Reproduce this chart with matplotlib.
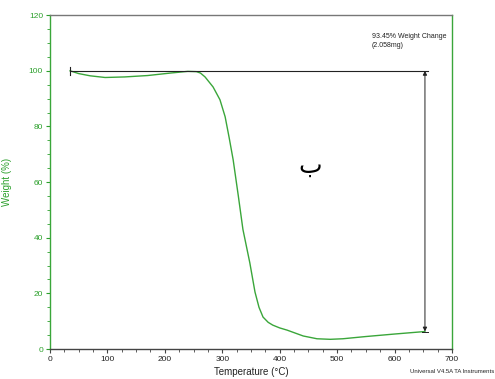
import numpy as np
import matplotlib.pyplot as plt
from matplotlib.ticker import MultipleLocator

plt.rcParams['font.family'] = ['Liberation Sans', 'DejaVu Sans']

# TGA curve
temp = [35, 50, 70, 96, 130, 170, 210, 240, 255, 262, 270, 284, 296, 305, 312, 319,
        328, 336, 348, 357, 364, 371, 380, 388, 400, 413, 441, 465, 488, 510, 550, 600, 653]
weight = [100, 99, 98.2, 97.6, 97.8, 98.3, 99.2, 99.8, 99.7, 99.2, 97.8, 94.2, 89.6, 83.5,
          76, 68, 55, 43, 31, 20.5, 15, 11.5, 9.6, 8.6, 7.6, 6.8, 4.7, 3.7, 3.5, 3.7, 4.5,
          5.4, 6.3]

step_start = 35
step_end = 653
step_top = 100
step_bottom = 6.3
step_label = "93.45% Weight Change\n(2.058mg)"

green = '#2ca02c'
line_green = '#3aa63a'
dark = '#222222'

fig = plt.figure(figsize=(4.95, 3.79), dpi=100)
ax = fig.add_axes([0.101, 0.079, 0.812, 0.881])

ax.plot(temp, weight, color=line_green, linewidth=1.0)

# step annotation
ax.plot([step_start, step_end + 6], [step_top, step_top], color=dark, linewidth=0.8)
ax.plot([step_start, step_start], [step_top - 1.5, step_top + 1.5], color=dark, linewidth=0.8)
ax.annotate('', xy=(step_end, step_top), xytext=(step_end, step_bottom),
            arrowprops=dict(arrowstyle='<|-|>', color=dark, lw=0.7,
                            mutation_scale=6, shrinkA=0, shrinkB=0))
ax.plot([step_end - 5, step_end + 6], [step_bottom, step_bottom], color=dark, linewidth=0.7)
ax.text(561, 113.5, step_label, fontsize=5, color=dark, va='top', ha='left', linespacing=1.3)
ax.text(453, 66, 'ب', fontsize=18, color='black', ha='center', va='center',
        family=['DejaVu Sans'])

ax.set_xlim(0, 700)
ax.set_ylim(0, 120)
ax.xaxis.set_major_locator(MultipleLocator(100))
ax.xaxis.set_minor_locator(MultipleLocator(25))
ax.yaxis.set_major_locator(MultipleLocator(20))
ax.yaxis.set_minor_locator(MultipleLocator(5))

for side in ['left', 'right']:
    ax.spines[side].set_color(line_green)
ax.spines['top'].set_color('#777777')
ax.spines['bottom'].set_color('#444444')
for s in ax.spines.values():
    s.set_linewidth(1.0)

ax.tick_params(axis='y', which='both', colors=green, labelsize=6, direction='out', pad=2)
ax.tick_params(axis='y', which='major', length=3)
ax.tick_params(axis='y', which='minor', length=2)
ax.tick_params(axis='x', which='both', colors='#444444', labelcolor=dark, labelsize=6,
               direction='out', pad=2)
ax.tick_params(axis='x', which='major', length=3)
ax.tick_params(axis='x', which='minor', length=2)

ax.set_ylabel('Weight (%)', color=green, fontsize=7, labelpad=12)
ax.set_xlabel('Temperature (°C)', color=dark, fontsize=7, labelpad=3)

fig.text(0.998, 0.012, 'Universal V4.5A TA Instruments', fontsize=4.3, color=dark,
         ha='right', va='bottom')

fig.savefig('out.png', dpi=100)
